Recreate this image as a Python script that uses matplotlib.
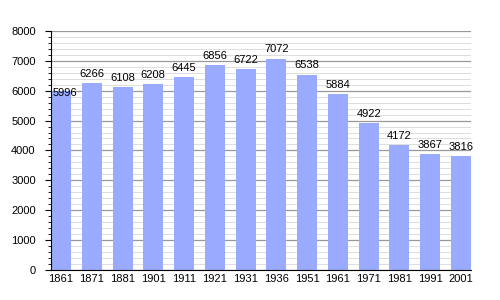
import matplotlib.pyplot as plt
from matplotlib.ticker import MultipleLocator

years = ['1861', '1871', '1881', '1901', '1911', '1921', '1931', '1936',
         '1951', '1961', '1971', '1981', '1991', '2001']
population = [5996, 6266, 6108, 6208, 6445, 6856, 6722, 7072,
              6538, 5884, 4922, 4172, 3867, 3816]

plt.rcParams['font.family'] = ['Liberation Sans', 'DejaVu Sans']

fig = plt.figure(figsize=(5, 3), dpi=100)
ax = fig.add_axes([0.102, 0.1, 0.84, 0.797])

bar_w = 0.65
x = range(len(years))
ax.bar(x, population, width=bar_w, color='#99aaff', zorder=2)
for i, v in zip(x, population):
    # first label is nudged right/down in the original so it clears the axis
    off = (3, -5) if i == 0 else (0, 3)
    ax.annotate(str(v), (i, v), xytext=off, textcoords='offset points',
                ha='center', va='bottom', fontsize=8, zorder=3)

ax.set_xlim(-bar_w / 2, len(years) - 1 + bar_w / 2)
ax.set_ylim(0, 8000)
ax.set_xticks(list(x))
ax.set_xticklabels(years)
ax.yaxis.set_major_locator(MultipleLocator(1000))
ax.yaxis.set_minor_locator(MultipleLocator(200))
ax.grid(which='major', axis='y', color='#999999', linewidth=0.9, zorder=0)
ax.grid(which='minor', axis='y', color='#dddddd', linewidth=0.7, zorder=0)
ax.spines['top'].set_visible(False)
ax.spines['right'].set_visible(False)
ax.tick_params(axis='x', length=0, labelsize=8, pad=3)
ax.tick_params(axis='y', which='major', length=4, labelsize=8, pad=7)
ax.tick_params(axis='y', which='minor', length=2)

fig.savefig('out.png', dpi=100)
